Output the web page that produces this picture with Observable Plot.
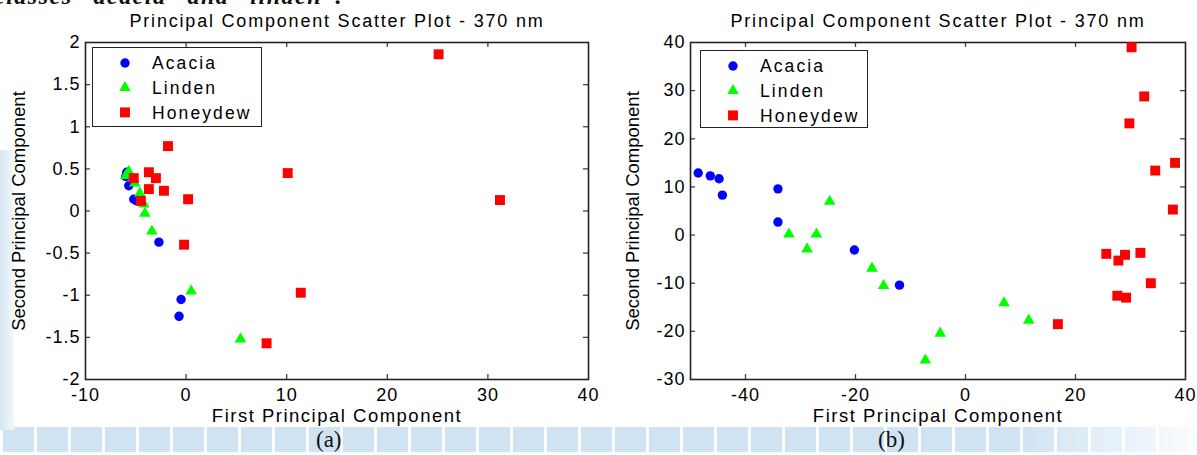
<!DOCTYPE html>
<html><head><meta charset="utf-8">
<script src="https://cdn.jsdelivr.net/npm/d3@7"></script>
<script src="https://cdn.jsdelivr.net/npm/@observablehq/plot@0.6"></script>
<style>
  html,body{margin:0;padding:0;}
  body{width:1197px;height:455px;overflow:hidden;background:#fff;position:relative;font-family:"Liberation Sans",Arial,sans-serif;}
  .bgstrip{position:absolute;left:0;top:427px;width:1197px;height:28px;
    background-color:#cfe3f2;
    background-image:
      linear-gradient(90deg, rgba(255,255,255,0) 0, rgba(255,255,255,0) 85%, rgba(255,255,255,0.9) 100%),
      repeating-linear-gradient(90deg, rgba(255,255,255,0.9) 0 3px, transparent 3px 34px),
      repeating-linear-gradient(0deg, rgba(255,255,255,0.9) 0 3px, transparent 3px 30px);}
  .bgleft{position:absolute;left:0;top:150px;width:14px;height:280px;
    background:linear-gradient(90deg,#d6e6f2,#f4f8fb);}
  .toptext{position:absolute;left:-6px;top:-18px;font-family:"Liberation Serif","DejaVu Serif",serif;font-style:italic;font-weight:bold;font-size:24px;line-height:28px;letter-spacing:1.5px;color:#111;white-space:nowrap;}
  .panel{position:absolute;top:0;}
  .cap{position:absolute;top:427px;font-family:"Liberation Serif","DejaVu Serif",serif;font-size:23px;color:#111;}
  .legend{position:absolute;background:#fff;border:1.5px solid #222;box-sizing:border-box;}
</style>
</head>
<body>
<div class="bgstrip"></div>
<div class="bgleft"></div>
<div class="toptext">classes “acacia” and “linden”.</div>
<div id="pa" class="panel" style="left:0px"></div>
<div id="pb" class="panel" style="left:600px"></div>
<div class="cap" style="left:316px">(a)</div>
<div class="cap" style="left:878px">(b)</div>
<script>
// ---- data ----
const seriesNames = ["Acacia", "Linden", "Honeydew"];
const seriesColors = ["#0000ff", "#00ff00", "#ff0000"];
const seriesSymbols = ["circle", "triangle", "square"];

const titleText = "Principal Component Scatter Plot - 370 nm";
const xLabelText = "First Principal Component";
const yLabelText = "Second Principal Component";

// panel (a)
const xTicksA = [-10, 0, 10, 20, 30, 40];
const yTicksA = [-2, -1.5, -1, -0.5, 0, 0.5, 1, 1.5, 2];
const acaciaA = [[-5.9,0.46],[-6.0,0.41],[-5.7,0.30],[-5.2,0.14],[-4.9,0.12],[-2.7,-0.37],[-0.5,-1.05],[-0.7,-1.25]];
const lindenA = [[-6.0,0.42],[-5.7,0.47],[-5.1,0.33],[-4.6,0.21],[-4.2,0.08],[-4.1,-0.03],[-3.4,-0.24],[0.5,-0.95],[5.4,-1.52]];
const honeydewA = [[25.1,1.86],[-1.8,0.77],[-3.7,0.46],[-5.2,0.39],[-3.0,0.39],[-3.7,0.26],[-2.2,0.24],[-4.5,0.12],[0.2,0.14],[10.1,0.45],[31.2,0.13],[-0.2,-0.40],[11.4,-0.97],[8.0,-1.57]];

// panel (b)
const xTicksB = [-40, -20, 0, 20, 40];
const yTicksB = [-30, -20, -10, 0, 10, 20, 30, 40];
const acaciaB = [[-48.6,12.9],[-46.4,12.3],[-44.8,11.7],[-44.2,8.3],[-34.1,9.6],[-34.1,2.7],[-20.2,-3.1],[-12.0,-10.4]];
const lindenB = [[-24.7,7.0],[-32.1,0.2],[-27.1,0.2],[-28.8,-2.9],[-17.0,-6.9],[-14.9,-10.5],[-7.3,-26.0],[-4.6,-20.4],[7.0,-14.1],[11.5,-17.7]];
const honeydewB = [[30.2,39.0],[32.5,28.8],[29.8,23.2],[38.1,15.0],[34.5,13.4],[37.7,5.3],[25.6,-3.9],[27.8,-5.3],[29.0,-4.1],[31.8,-3.7],[33.7,-10.0],[27.6,-12.6],[29.2,-13.0],[16.8,-18.5]];

// ---- drawing ----
const markerR = {circle: 4.7, triangle: 4.3, square: 5.6};
const FONT = "Liberation Sans, Arial, sans-serif";

function panel(el, opt) {
  const W = opt.width, H = 430, mt = 42, mb = 51, ml = opt.ml, mr = opt.mr;
  const innerW = W - ml - mr, innerH = H - mt - mb;
  const [x0, x1] = opt.xDomain, [y0, y1] = opt.yDomain;
  const xin = opt.xTicks.filter(d => d > x0 && d < x1);
  const yin = opt.yTicks.filter(d => d > y0 && d < y1);
  const fmt = d => String(d);
  const series = [opt.acacia, opt.linden, opt.honeydew];
  const dotMarks = series.map((s, i) => Plot.dot(s, {
    x: d => d[0], y: d => d[1], symbol: seriesSymbols[i],
    r: markerR[seriesSymbols[i]], fill: seriesColors[i], stroke: "none"
  }));
  const svg = Plot.plot({
    width: W, height: H,
    marginTop: mt, marginBottom: mb, marginLeft: ml, marginRight: mr,
    style: {fontFamily: FONT, fontSize: "18px", color: "#000", background: "transparent", overflow: "visible", letterSpacing: "1px"},
    x: {domain: opt.xDomain, label: null},
    y: {domain: opt.yDomain, label: null},
    marks: [
      Plot.tickX(xin, {x: d => d, insetTop: innerH - 5, stroke: "#444", strokeWidth: 1.3}),
      Plot.tickX(xin, {x: d => d, insetBottom: innerH - 5, stroke: "#444", strokeWidth: 1.3}),
      Plot.tickY(yin, {y: d => d, insetRight: innerW - 5, stroke: "#444", strokeWidth: 1.3}),
      Plot.tickY(yin, {y: d => d, insetLeft: innerW - 5, stroke: "#444", strokeWidth: 1.3}),
      Plot.frame({stroke: "#222", strokeWidth: 1.6}),
      Plot.axisX(opt.xTicks, {tickSize: 0, tickPadding: 9, tickFormat: fmt, label: null, fontSize: 18}),
      Plot.axisY(opt.yTicks, {tickSize: 0, tickPadding: 5, tickFormat: fmt, label: null, fontSize: 18}),
      Plot.text([xLabelText], {frameAnchor: "bottom", dy: 37, lineAnchor: "middle", text: d => d, fontSize: 18.5, fill: "#000"}),
      Plot.text([yLabelText], {frameAnchor: "left", dx: opt.yLabelDx, rotate: -90, textAnchor: "middle", lineAnchor: "middle", text: d => d, fontSize: 18.5, fill: "#000"}),
      Plot.text([titleText], {frameAnchor: "top", dy: -21, lineAnchor: "middle", text: d => d, fontSize: 18, fill: "#000"}),
      ...dotMarks
    ]
  });
  // letter spacing to mimic the horizontally stretched original figure
  const spacing = new Map([[titleText, "1.8px"], [xLabelText, "1.5px"], [yLabelText, "0px"]]);
  d3.select(svg).selectAll("text").each(function() {
    const t = this.textContent;
    if (spacing.has(t)) this.setAttribute("letter-spacing", spacing.get(t));
  });
  el.appendChild(svg);

  // legend box
  const lg = d3.select(el).append("div").attr("class", "legend")
    .style("left", opt.legend.left + "px").style("top", opt.legend.top + "px")
    .style("width", opt.legend.w + "px").style("height", opt.legend.h + "px");
  const ls = lg.append("svg").attr("width", opt.legend.w - 3).attr("height", opt.legend.h - 3)
    .style("position", "absolute").style("left", "0").style("top", "0");
  const symType = {circle: d3.symbolCircle, triangle: d3.symbolTriangle, square: d3.symbolSquare};
  seriesNames.forEach((name, i) => {
    const cy = 15 + i * 24.7;
    const r = markerR[seriesSymbols[i]];
    ls.append("path")
      .attr("d", d3.symbol(symType[seriesSymbols[i]], Math.PI * r * r)())
      .attr("transform", `translate(32,${cy})`)
      .attr("fill", seriesColors[i]);
    ls.append("text").attr("x", 59).attr("y", cy).attr("dy", "0.36em")
      .attr("font-family", FONT).attr("font-size", 17.5).attr("letter-spacing", "2.1px")
      .attr("fill", "#000").text(name);
  });
}

panel(document.getElementById("pa"), {
  width: 600, ml: 85, mr: 12,
  xDomain: [-10, 40], yDomain: [-2, 2], xTicks: xTicksA, yTicks: yTicksA,
  acacia: acaciaA, linden: lindenA, honeydew: honeydewA,
  yLabelDx: -66,
  legend: {left: 92, top: 47, w: 170, h: 80}
});
panel(document.getElementById("pb"), {
  width: 597, ml: 90, mr: 12,
  xDomain: [-50, 40], yDomain: [-30, 40], xTicks: xTicksB, yTicks: yTicksB,
  acacia: acaciaB, linden: lindenB, honeydew: honeydewB,
  yLabelDx: -57,
  legend: {left: 100, top: 50, w: 168, h: 78}
});
</script>
</body></html>
